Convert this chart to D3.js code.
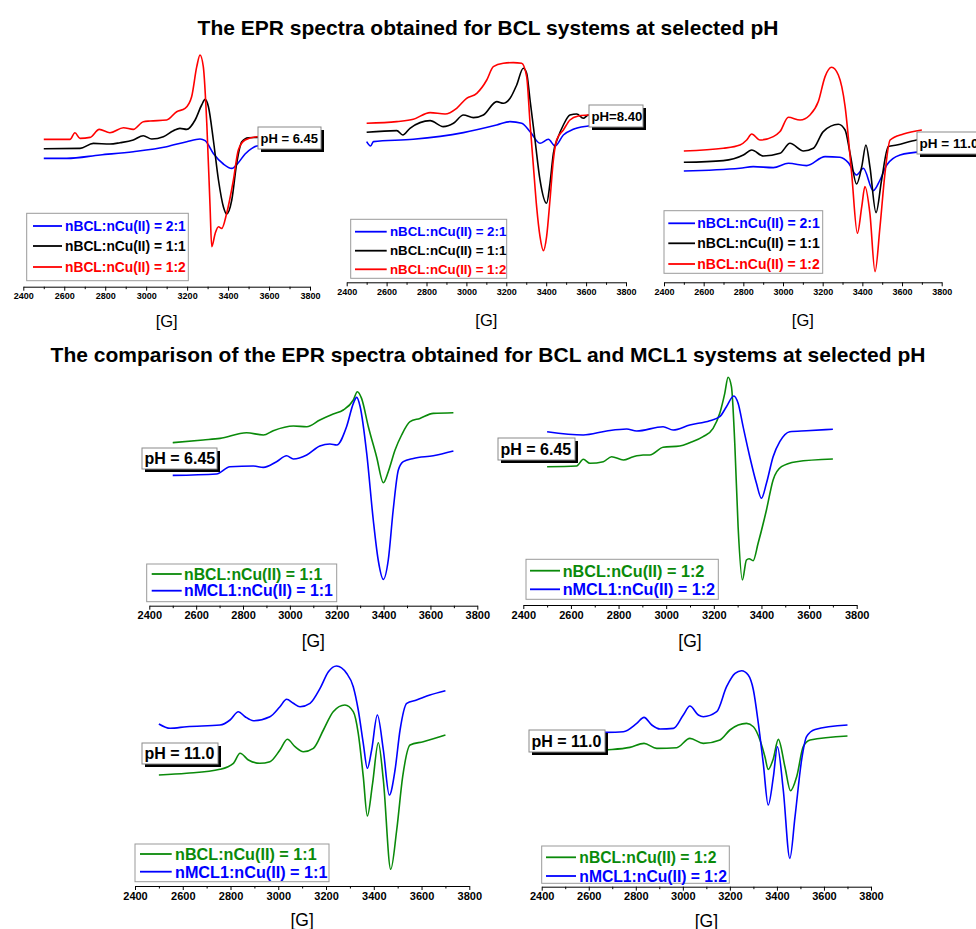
<!DOCTYPE html>
<html>
<head>
<meta charset="utf-8">
<script src="https://cdn.jsdelivr.net/npm/d3@7/dist/d3.min.js"></script>
<style>
  html, body { margin: 0; padding: 0; background: #fff; }
  svg { display: block; font-family: "Liberation Sans", Arial, sans-serif; }
</style>
</head>
<body>
<svg id="chart" width="976" height="929"></svg>
<script>
// ---------------- DATA ----------------
// Magnetic field [G] vs. relative EPR intensity (a.u.)
const majorTicks = [2400, 2600, 2800, 3000, 3200, 3400, 3600, 3800];
const minorTicks = [2500, 2700, 2900, 3100, 3300, 3500, 3700];
const axisTitle = "[G]";
const titleTop = "The EPR spectra obtained for BCL systems at selected pH";
const titleBottom = "The comparison of the EPR spectra obtained for BCL and MCL1 systems at selected pH";

const legendTop = ["nBCL:nCu(II) = 2:1", "nBCL:nCu(II) = 1:1", "nBCL:nCu(II) = 1:2"];
const legendCmp11 = ["nBCL:nCu(II) = 1:1", "nMCL1:nCu(II) = 1:1"];
const legendCmp12 = ["nBCL:nCu(II) = 1:2", "nMCL1:nCu(II) = 1:2"];
const phLabels = ["pH = 6.45", "pH=8.40", "pH = 11.0", "pH = 6.45", "pH = 6.45", "pH = 11.0", "pH = 11.0"];

// Panel 1: BCL, pH 6.45
const p1Blue = [[2500,128.3],[2612,128.3],[2775,131.7],[2937,135],[3100,140],[3198,145],[3263,147.7],[3288,146],[3328,133.3],[3377,122.7],[3418,118.3],[3450,124],[3483,132.7],[3516,138.3],[3540,140.7],[3700,143]];
const p1Black = [[2500,138],[2677,138.3],[2742,143.3],[2823,142.7],[2872,144],[2937,146.7],[2986,151],[3027,147.7],[3084,150],[3133,156],[3165,158.3],[3198,157.3],[3239,166.7],[3271,181.7],[3288,187.3],[3304,180],[3328,146.7],[3353,106.7],[3377,80],[3393,72.7],[3418,86.7],[3442,123.3],[3467,145],[3499,149],[3540,149.3],[3700,150]];
const p1Red = [[2500,147.3],[2628,147.3],[2652,154],[2677,148.3],[2726,149.3],[2771,157.3],[2823,154],[2889,159],[2937,157.3],[2986,165],[3019,165.7],[3100,166.7],[3149,175],[3190,178.3],[3222,190],[3247,220],[3263,231.7],[3279,220],[3296,163.3],[3312,80],[3320,40],[3337,53.3],[3353,60],[3369,58.3],[3393,73.3],[3426,106.7],[3450,136.7],[3483,146.7],[3540,150],[3700,151.7]];

// Panel 2: BCL, pH 8.40
const p2Blue = [[2500,140.7],[2520,136.3],[2534,140.7],[2734,143],[2985,149.7],[3152,157.3],[3219,160.7],[3277,159],[3319,150.7],[3369,139],[3411,143],[3444,136.3],[3486,147.3],[3536,153],[3611,156.3],[3700,158.3]];
const p2Black = [[2500,150],[2651,151.7],[2681,147.3],[2717,154],[2818,161.7],[2884,155.7],[2935,159],[2985,167.3],[3035,164.7],[3085,167.3],[3152,180.7],[3185,179],[3219,184],[3252,197.3],[3285,214],[3302,209],[3319,182.3],[3344,142.3],[3369,102.3],[3402,79],[3419,99],[3436,129],[3461,145.7],[3486,157.3],[3519,167.3],[3553,168.3],[3586,164],[3611,167.3],[3700,168.3]];
const p2Red = [[2500,159],[2651,160.7],[2734,163],[2818,169.7],[2893,168.3],[2951,174],[3001,184],[3052,189],[3102,202.3],[3135,215.7],[3185,219],[3235,219.7],[3277,219],[3302,205.7],[3319,159],[3336,115.7],[3352,75.7],[3369,45.7],[3386,31.7],[3402,45.7],[3419,82.3],[3436,122.3],[3452,142.3],[3486,152.3],[3519,162.3],[3561,166.3],[3611,167.3],[3700,169]];

// Panel 3: BCL, pH 11.0
const p3Blue = [[2500,111.3],[2783,114],[2850,115.7],[2951,114.7],[3027,119],[3119,116.7],[3212,125.7],[3287,125],[3329,119.7],[3371,107.3],[3405,114],[3455,91.7],[3489,102.3],[3523,117.3],[3590,127.3],[3700,130.7]];
const p3Black = [[2500,120],[2699,121.7],[2800,127.3],[2842,132.3],[2901,126.3],[2985,129],[3035,139],[3103,131.3],[3153,134],[3203,150.7],[3279,158],[3313,152.3],[3338,129],[3371,98.3],[3397,115.7],[3418,137.3],[3438,115.7],[3469,69.7],[3497,102.3],[3531,135.7],[3573,137.3],[3674,142.3],[3700,143]];
const p3Red = [[2500,131.3],[2699,134],[2783,137.3],[2817,142.3],[2842,148.3],[2884,142.3],[2951,145.7],[2985,150.7],[3027,165],[3086,162.3],[3136,167.3],[3178,180.7],[3212,205.7],[3245,215],[3279,207.3],[3313,175.7],[3346,109],[3375,49],[3397,75.7],[3413,95.7],[3438,69],[3464,10.7],[3489,55.7],[3514,109],[3540,142.3],[3607,148.3],[3700,152.3]];

// Panel 4: BCL vs MCL1 1:1, pH 6.45
const p4Green = [[2500,163],[2630,165.7],[2702,167.3],[2815,173],[2887,170.7],[2929,175],[3015,179.7],[3072,179],[3128,185.7],[3185,191.7],[3228,195.7],[3271,205.7],[3288,214],[3306,207.3],[3335,179],[3370,149],[3399,123],[3420,134],[3449,155.7],[3477,170.7],[3513,184],[3555,187.3],[3612,192.3],[3698,193]];
const p4Blue = [[2500,130.3],[2687,131.7],[2744,139],[2844,139.7],[2887,138.3],[2943,144],[2986,150],[3015,146.7],[3072,150.7],[3128,159.7],[3171,161.7],[3200,160.7],[3242,179],[3271,202.3],[3285,208.3],[3300,199],[3328,152.3],[3356,85.7],[3377,45.7],[3399,26.3],[3420,45.7],[3441,95.7],[3463,135.7],[3484,144],[3527,147.3],[3612,150],[3698,154.7]];

// Panel 5: BCL vs MCL1 1:2, pH 6.45
const p5Green = [[2500,138.3],[2624,139],[2652,145.7],[2680,141.7],[2736,143.3],[2771,148.3],[2820,145],[2862,148.3],[2903,150],[2931,150],[2987,157.7],[3057,159],[3099,162.3],[3155,168.3],[3197,176.7],[3225,191.7],[3246,211.7],[3260,227.7],[3274,218.3],[3288,161.7],[3302,78.3],[3320,25],[3337,45],[3348,46.3],[3365,44.3],[3386,61.7],[3421,95],[3449,125],[3484,138.3],[3547,143.3],[3700,146]];
const p5Blue = [[2500,173.3],[2652,170],[2750,174],[2834,176],[2876,174],[2987,178.3],[3029,175],[3099,180],[3183,184.3],[3225,188.3],[3253,198.3],[3284,209],[3302,201.7],[3323,178.3],[3351,148.3],[3379,121.7],[3400,106.7],[3421,121.7],[3449,148.3],[3477,163.3],[3519,173.3],[3589,174.3],[3700,175.7]];

// Panel 6: BCL vs MCL1 1:1, pH 11.0
const p6Green = [[2500,111],[2616,112.7],[2756,116.7],[2812,122.7],[2840,132.7],[2875,126],[2923,122.7],[2965,124.3],[3007,136],[3038,146.7],[3070,139.3],[3105,134.3],[3147,137.7],[3189,156],[3230,174.3],[3279,181],[3314,174.3],[3335,152.7],[3356,109.3],[3373,70],[3395,102.7],[3419,143.3],[3440,106],[3471,16.7],[3496,56],[3521,109.3],[3552,141],[3607,144.3],[3700,151]];
const p6Blue = [[2500,162],[2547,157.7],[2616,159.3],[2756,161],[2798,166],[2833,174.3],[2861,169.3],[2896,165.3],[2965,169.3],[3007,179.3],[3035,186.7],[3063,182.7],[3091,179.3],[3133,182.7],[3175,197.7],[3210,214.3],[3244,220],[3286,212.7],[3314,199.3],[3335,176],[3356,142.7],[3373,117.7],[3391,136],[3415,171],[3440,136],[3465,91],[3489,116],[3510,156],[3538,182.7],[3579,186],[3635,191],[3700,195.3]];

// Panel 7: BCL vs MCL1 1:2, pH 11.0
const p7Green = [[2500,134],[2669,136.7],[2775,139.3],[2835,143.3],[2889,138.3],[2974,139],[3030,148.3],[3087,143.3],[3158,146.7],[3200,156.7],[3271,163.3],[3300,160],[3328,146.7],[3349,130],[3363,117.3],[3385,128.3],[3406,147.3],[3434,120],[3458,96],[3484,110],[3512,140],[3541,146.7],[3700,150.7]];
const p7Blue = [[2500,154],[2669,154.3],[2747,155],[2804,163.3],[2835,169.3],[2868,161.7],[2903,157.7],[2960,158.3],[3002,171.7],[3030,180.7],[3066,171.7],[3087,170],[3144,175],[3186,200],[3222,213.3],[3250,216],[3278,211.7],[3300,196.7],[3321,163.3],[3342,123.3],[3363,81.7],[3385,110],[3402,140],[3427,96.7],[3455,28.3],[3477,70],[3505,126.7],[3526,150],[3562,157.3],[3700,161.7]];

// ---------------- LAYOUT / STYLE ----------------
const BLUE = "#0000ff", BLACK = "#000000", RED = "#ff0000", GREEN = "#0a8a0a";

const panels = [
  { x0: 23.3, x1: 310, axisY: 286.7, tickFS: 9, gFS: 16.5, gY: 327,
    series: [[p1Blue, BLUE], [p1Black, BLACK], [p1Red, RED]],
    legend: { x: 26.7, y: 213.3, w: 161.6, h: 67.4, rows: [226, 246, 267], lx0: 33, lx1: 62, tx: 65, fs: 13.8, labels: legendTop, colors: [BLUE, BLACK, RED] },
    ph: { x: 258, y: 127, w: 63, h: 22, fs: 13, text: phLabels[0] } },
  { x0: 346.7, x1: 626, axisY: 282.3, tickFS: 9, gFS: 16.5, gY: 326,
    series: [[p2Blue, BLUE], [p2Black, BLACK], [p2Red, RED]],
    legend: { x: 350.7, y: 219.3, w: 156, h: 59, rows: [231.7, 250.7, 269.3], lx0: 355, lx1: 386.7, tx: 390, fs: 13.3, labels: legendTop, colors: [BLUE, BLACK, RED] },
    ph: { x: 589, y: 105, w: 54, h: 22, fs: 13.2, text: phLabels[1] } },
  { x0: 664, x1: 941.7, axisY: 282.3, tickFS: 9, gFS: 16.5, gY: 326,
    series: [[p3Blue, BLUE], [p3Black, BLACK], [p3Red, RED]],
    legend: { x: 664, y: 210.7, w: 158.7, h: 62.6, rows: [223.3, 243.3, 264], lx0: 668.3, lx1: 695, tx: 697.3, fs: 14, labels: legendTop, colors: [BLUE, BLACK, RED] },
    ph: { x: 917, y: 132, w: 66, h: 22, fs: 13.5, text: phLabels[2] } },
  { x0: 149.3, x1: 477.3, axisY: 605.7, tickFS: 11, gFS: 17.5, gY: 647,
    series: [[p4Green, GREEN], [p4Blue, BLUE]],
    legend: { x: 146.7, y: 564, w: 190, h: 37.7, rows: [574, 590.7], lx0: 151.7, lx1: 181.7, tx: 184, fs: 15.8, labels: legendCmp11, colors: [GREEN, BLUE] },
    ph: { x: 142, y: 448, w: 75, h: 21, fs: 16, text: phLabels[3] } },
  { x0: 523.3, x1: 856.7, axisY: 605, tickFS: 11, gFS: 17.5, gY: 647,
    series: [[p5Green, GREEN], [p5Blue, BLUE]],
    legend: { x: 526, y: 559.3, w: 192.3, h: 40, rows: [570.7, 589.3], lx0: 530, lx1: 560, tx: 562.7, fs: 16.2, labels: legendCmp12, colors: [GREEN, BLUE] },
    ph: { x: 498, y: 438, w: 77, h: 22, fs: 16, text: phLabels[4] } },
  { x0: 135, x1: 469.3, axisY: 886, tickFS: 11, gFS: 17.5, gY: 926,
    series: [[p6Green, GREEN], [p6Blue, BLUE]],
    legend: { x: 135, y: 844, w: 194, h: 37.7, rows: [854, 871.7], lx0: 140, lx1: 171.7, tx: 175, fs: 16.2, labels: legendCmp11, colors: [GREEN, BLUE] },
    ph: { x: 142, y: 743, w: 76, h: 21, fs: 16, text: phLabels[5] } },
  { x0: 541.7, x1: 871, axisY: 886.7, tickFS: 11, gFS: 17.5, gY: 927,
    series: [[p7Green, GREEN], [p7Blue, BLUE]],
    legend: { x: 541.7, y: 846, w: 187.6, h: 37.3, rows: [857.3, 876], lx0: 546, lx1: 576, tx: 579.3, fs: 15.7, labels: legendCmp12, colors: [GREEN, BLUE] },
    ph: { x: 529, y: 730, w: 76, h: 22, fs: 16, text: phLabels[6] } }
];

// ---------------- DRAW ----------------
const svg = d3.select("#chart");
svg.append("rect").attr("width", 976).attr("height", 929).attr("fill", "#fff");

svg.append("text").attr("x", 488).attr("y", 34.5).attr("text-anchor", "middle")
  .attr("font-size", 21).attr("font-weight", "bold").text(titleTop);
svg.append("text").attr("x", 488).attr("y", 362).attr("text-anchor", "middle")
  .attr("font-size", 21).attr("font-weight", "bold").text(titleBottom);

panels.forEach(p => {
  const g = svg.append("g");
  const x = d3.scaleLinear().domain([2400, 3800]).range([p.x0, p.x1]);
  const y = d3.scaleLinear().domain([0, 300]).range([p.axisY, p.axisY - 300]);

  // minor ticks
  g.append("g").attr("transform", `translate(0,${p.axisY})`)
    .call(d3.axisBottom(x).tickValues(minorTicks).tickSize(2.5).tickFormat(""))
    .call(a => a.select(".domain").remove());
  // major axis
  const ax = g.append("g").attr("transform", `translate(0,${p.axisY})`)
    .call(d3.axisBottom(x).tickValues(majorTicks).tickSizeInner(4).tickSizeOuter(0).tickPadding(2).tickFormat(d3.format("d")));
  ax.selectAll("text").attr("font-size", p.tickFS).attr("font-weight", "bold")
    .attr("font-family", "Liberation Sans, Arial, sans-serif").attr("fill", "#000");
  ax.selectAll("line, path").attr("stroke", "#000");

  g.append("text").attr("x", (p.x0 + p.x1) / 2).attr("y", p.gY).attr("text-anchor", "middle")
    .attr("font-size", p.gFS).text(axisTitle);

  const line = d3.line().x(d => x(d[0])).y(d => y(d[1])).curve(d3.curveMonotoneX);
  p.series.forEach(([data, color]) => {
    g.append("path").datum(data).attr("d", line).attr("fill", "none")
      .attr("stroke", color).attr("stroke-width", 1.6).attr("stroke-linejoin", "round");
  });

  // legend
  const L = p.legend;
  g.append("rect").attr("x", L.x).attr("y", L.y).attr("width", L.w).attr("height", L.h)
    .attr("fill", "#fff").attr("stroke", "#9a9a9a").attr("stroke-width", 1);
  L.labels.forEach((lab, i) => {
    g.append("line").attr("x1", L.lx0).attr("x2", L.lx1).attr("y1", L.rows[i]).attr("y2", L.rows[i])
      .attr("stroke", L.colors[i]).attr("stroke-width", 1.8);
    g.append("text").attr("x", L.tx).attr("y", L.rows[i]).attr("dy", "0.36em")
      .attr("font-size", L.fs).attr("font-weight", "bold").attr("fill", L.colors[i]).text(lab);
  });

  // pH label with shadow
  const P = p.ph;
  g.append("rect").attr("x", P.x + 3).attr("y", P.y + 3).attr("width", P.w).attr("height", P.h).attr("fill", "#000");
  g.append("rect").attr("x", P.x).attr("y", P.y).attr("width", P.w).attr("height", P.h)
    .attr("fill", "#fff").attr("stroke", "#8a8a8a").attr("stroke-width", 1);
  g.append("text").attr("x", P.x + 2.5).attr("y", P.y + P.h / 2).attr("dy", "0.36em")
    .attr("font-size", P.fs).attr("font-weight", "bold").attr("fill", "#000").text(P.text);
});
</script>
</body>
</html>
